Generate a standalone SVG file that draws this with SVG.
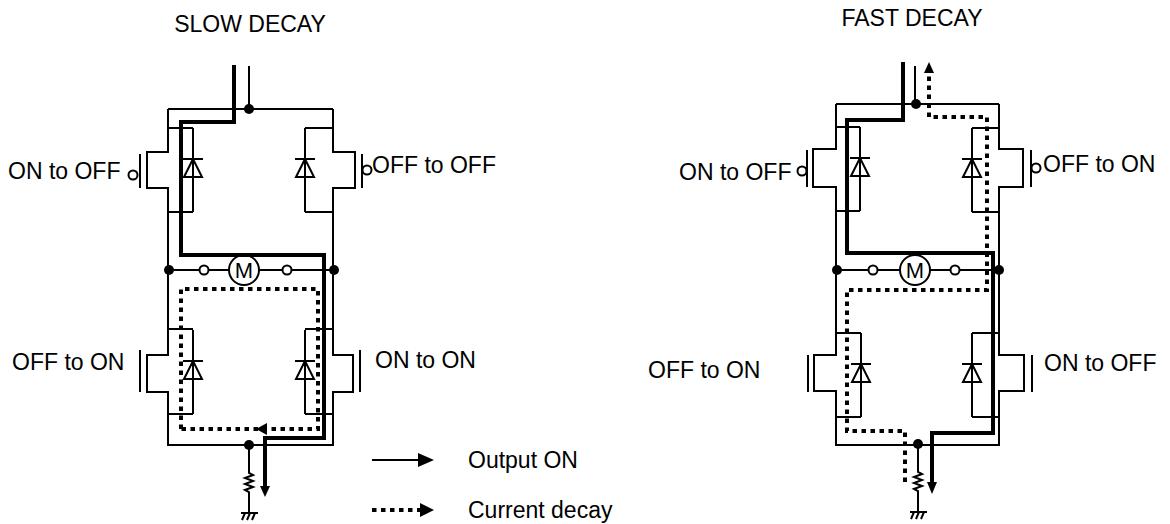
<svg xmlns="http://www.w3.org/2000/svg" width="1170" height="524" viewBox="0 0 1170 524">
<style>
.w{fill:none;stroke:#000;stroke-width:2;stroke-linejoin:miter}
.thick{fill:none;stroke:#000;stroke-width:4;stroke-linejoin:miter}
.dot{fill:none;stroke:#000;stroke-width:4;stroke-dasharray:4.5 4.5}
.j{fill:#000}
.o{fill:#fff;stroke:#000;stroke-width:2}
.t{font-family:"Liberation Sans",Arial,sans-serif;font-size:23px;fill:#000}
.m{font-family:"Liberation Sans",Arial,sans-serif;font-size:22px;fill:#000;text-anchor:middle}
.ah{fill:#000}
</style>
<rect width="1170" height="524" fill="#fff"/>
<defs>
<g id="diode"><path class="w" d="M0,0 V84"/><path class="w" d="M0,31 L-9,49 H9 Z" fill="#fff"/><path class="w" d="M-10,31 H10"/></g>
<g id="gnd"><path class="w" d="M-8,0 H9 M-4,0 l-3,7 M1,0 l-3,7 M6,0 l-3,7" stroke-width="1.6"/></g>
<g id="res"><path class="w" d="M0,0 V28 l4,2 l-8,3 l8,3 l-8,3 l8,3 l-8,3 l4,2 V68" stroke-width="1.6"/></g>
</defs>

<g id="slow-decay">
<text class="t" x="250" y="32" text-anchor="middle">SLOW DECAY</text>
<g id="s-supply"><path class="w" d="M249,66 V109"/></g>
<g id="s-bridge"><path class="w" d="M168,109 H333 M168,109 V152 H147 V188 H168 V355 H147 V392 H168 V445 H333 V392 H353 V355 H333 V188 H355 V152 H333 V109"/></g>
<g id="s-q1"><path class="w" d="M168,128 H193 M168,212 H193 M140,154 V188"/><circle class="o" cx="133" cy="175" r="4.5"/><use href="#diode" x="193" y="128"/><text class="t" x="8" y="179">ON to OFF</text></g>
<g id="s-q2"><path class="w" d="M333,128 H305 M333,212 H305 M362,154 V188"/><circle class="o" cx="367" cy="170" r="4.5"/><use href="#diode" x="305" y="128"/><text class="t" x="372" y="173">OFF to OFF</text></g>
<g id="s-q3"><path class="w" d="M168,329 H193 M168,414 H193 M140,350 V392"/><use href="#diode" x="193" y="330"/><text class="t" x="12" y="370">OFF to ON</text></g>
<g id="s-q4"><path class="w" d="M333,329 H305 M333,414 H305 M360,350 V392"/><use href="#diode" x="305" y="330"/><text class="t" x="375" y="368">ON to ON</text></g>
<g id="s-motor"><path class="w" d="M168,270 H333"/><circle class="o" cx="204" cy="270" r="4.5"/><circle class="o" cx="287" cy="270" r="4.5"/><circle class="o" cx="244" cy="270" r="15"/><text class="m" x="244" y="278">M</text></g>
<g id="s-nodes"><circle class="j" cx="249" cy="109" r="5"/><circle class="j" cx="169" cy="270" r="5"/><circle class="j" cx="334" cy="270" r="5"/><circle class="j" cx="249" cy="445" r="5"/></g>
<g id="s-gnd"><use href="#res" x="249" y="445"/><use href="#gnd" x="249" y="513"/></g>
<g id="s-paths">
<path class="thick" d="M234,65 V122 H181 V255 H324 V438 H265 V488"/><polygon class="ah" points="260,486 270,486 265,497"/>
<path class="dot" d="M181,429 V289 H318 V429 H181"/><polygon class="ah" points="256,429 267,423 267,435"/>
</g>
</g>

<g id="fast-decay">
<text class="t" x="912" y="26" text-anchor="middle">FAST DECAY</text>
<g id="f-supply"><path class="w" d="M915,66 V104"/></g>
<g id="f-bridge"><path class="w" d="M836,104 H999 M836,104 V149 H813 V187 H836 V355 H814 V391 H836 V445 H999 V391 H1024 V355 H999 V187 H1023 V149 H999 V104"/></g>
<g id="f-q1"><path class="w" d="M836,127 H860 M836,211 H860 M807,150 V187"/><circle class="o" cx="802" cy="171" r="4.5"/><use href="#diode" x="860" y="127"/><text class="t" x="679" y="180">ON to OFF</text></g>
<g id="f-q2"><path class="w" d="M999,128 H972 M999,212 H972 M1031,150 V187"/><circle class="o" cx="1036" cy="168" r="4.5"/><use href="#diode" x="972" y="128"/><text class="t" x="1043" y="172">OFF to ON</text></g>
<g id="f-q3"><path class="w" d="M836,333 H861 M836,417 H861 M808,355 V392"/><use href="#diode" x="861" y="333"/><text class="t" x="648" y="378">OFF to ON</text></g>
<g id="f-q4"><path class="w" d="M999,333 H972 M999,417 H972 M1032,355 V392"/><use href="#diode" x="972" y="333"/><text class="t" x="1044" y="371">ON to OFF</text></g>
<g id="f-motor"><path class="w" d="M836,270 H999"/><circle class="o" cx="873" cy="270" r="4.5"/><circle class="o" cx="955" cy="270" r="4.5"/><circle class="o" cx="915" cy="270" r="15"/><text class="m" x="915" y="278">M</text></g>
<g id="f-nodes"><circle class="j" cx="916" cy="104" r="5"/><circle class="j" cx="837" cy="270" r="5"/><circle class="j" cx="999" cy="270" r="5"/><circle class="j" cx="918" cy="444" r="5"/></g>
<g id="f-gnd"><use href="#res" x="918" y="444"/><use href="#gnd" x="918" y="512"/></g>
<g id="f-paths">
<path class="thick" d="M903,62 V120 H847 V253 H993 V433 H932 V484"/><polygon class="ah" points="927,482 937,482 932,494"/>
<path class="dot" d="M905,482 V431 H847 V290 H987 V117 H929 V73"/><polygon class="ah" points="924,73 934,73 929,62"/>
</g>
</g>

<g id="legend">
<path class="w" d="M372,460 H420" stroke-width="3"/><polygon class="ah" points="418,453 434,460 418,467"/>
<text class="t" x="468" y="468">Output ON</text>
<path class="dot" d="M372,510 H420"/><polygon class="ah" points="420,503 434,510 420,517"/>
<text class="t" x="468" y="518">Current decay</text>
</g>
</svg>
